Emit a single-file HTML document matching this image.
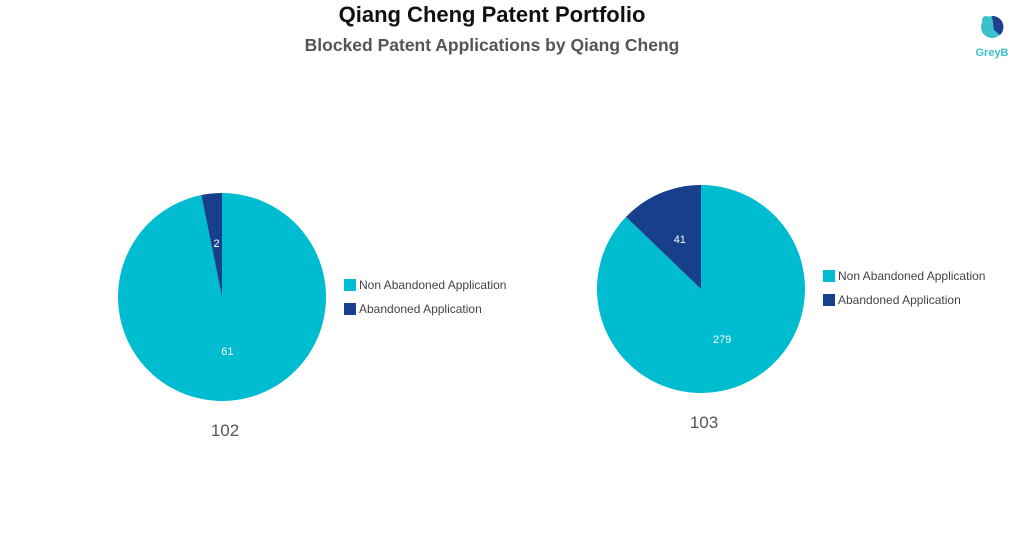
<!DOCTYPE html>
<html><head><meta charset="utf-8"><style>
body{margin:0;background:#fff;width:1024px;height:546px;overflow:hidden;font-family:"Liberation Sans",sans-serif}
svg{display:block}
</style></head><body>
<svg id="chart" width="1024" height="546">
<text x="492" y="22" text-anchor="middle" font-size="22" font-weight="bold" fill="#111">Qiang Cheng Patent Portfolio</text>
<text x="492" y="51" text-anchor="middle" font-size="17.5" font-weight="bold" fill="#555">Blocked Patent Applications by Qiang Cheng</text>
<g>
<circle cx="992" cy="27" r="11" fill="#3cc0cc"/>
<path d="M992 16 A11 11 0 0 1 1000 35 L994 30 Z" fill="#1e3f8f"/>
<circle cx="986" cy="20" r="4" fill="#3cc0cc"/>
<text x="992" y="56" text-anchor="middle" font-size="11" font-weight="bold" fill="#3cc0cc">GreyB</text>
</g>
<g id="pies"></g>
</svg>
<script>
const categories=["Non Abandoned Application","Abandoned Application"];
const pieLabels=["102","103"];
const nonAbandoned=[61,279];
const abandoned=[2,41];
const colors=["#00bcd0","#173f8c"];
const centers=[[222,297],[701,289]];
const legendPos=[[344,279],[823,270]];
const R=104;
const NS="http://www.w3.org/2000/svg";
const g=document.getElementById('pies');
function mk(t,a){const e=document.createElementNS(NS,t);for(const k in a)e.setAttribute(k,a[k]);return e;}
function pt(cx,cy,r,a){return [cx+r*Math.sin(a),cy-r*Math.cos(a)];}
pieLabels.forEach((lab,i)=>{
  const [cx,cy]=centers[i];
  const vals=[nonAbandoned[i],abandoned[i]];
  const tot=vals[0]+vals[1];
  let a0=0;
  vals.forEach((v,j)=>{
    const a1=a0+v/tot*2*Math.PI;
    const p0=pt(cx,cy,R,a0),p1=pt(cx,cy,R,a1);
    const large=(a1-a0)>Math.PI?1:0;
    const p=mk('path',{d:`M${cx} ${cy} L${p0[0]} ${p0[1]} A${R} ${R} 0 ${large} 1 ${p1[0]} ${p1[1]} Z`,fill:colors[j]});
    
    
    g.appendChild(p);
    const mid=(a0+a1)/2;
    const lp=pt(cx,cy,R*0.52,mid);
    const t=mk('text',{x:lp[0],y:lp[1]+4,'text-anchor':'middle','font-size':'11',fill:'#fff'});
    t.textContent=v;
    
    
    g.appendChild(t);
    a0=a1;
  });
  const tl=mk('text',{x:cx+3,y:cy+R+35,'text-anchor':'middle','font-size':'17',fill:'#555'});
  tl.textContent=lab;
  
  
  g.appendChild(tl);
  const [lx,ly]=legendPos[i];
  categories.forEach((c,j)=>{
    const r=mk('rect',{x:lx,y:ly+j*24,width:12,height:12,fill:colors[j]});
    
    
    g.appendChild(r);
    const t=mk('text',{x:lx+15,y:ly+j*24+10,'font-size':'12',fill:'#444'});
    t.textContent=c;
    
    
    g.appendChild(t);
  });
});
</script>
</body></html>
